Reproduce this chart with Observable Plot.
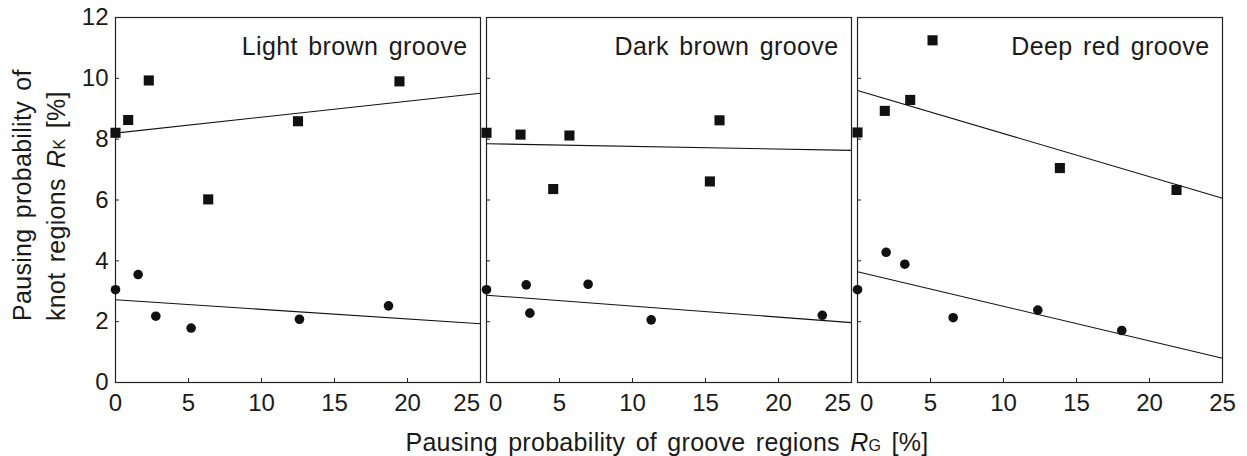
<!DOCTYPE html>
<html><head><meta charset="utf-8">
<script src="https://cdn.jsdelivr.net/npm/d3@7"></script>
<script src="https://cdn.jsdelivr.net/npm/@observablehq/plot@0.6"></script>
<style>body{margin:0;background:#fff} svg{display:block}</style>
</head><body><div id="chart"></div>
<script>
const panels = ["Light brown groove", "Dark brown groove", "Deep red groove"];
const xTicks = [0, 5, 10, 15, 20, 25];
const yTicks = [0, 2, 4, 6, 8, 10, 12];

const lightSquareX = [0, 0.87, 2.28, 6.35, 12.5, 19.45];
const lightSquareY = [8.21, 8.63, 9.93, 6.02, 8.59, 9.9];
const lightCircleX = [0, 1.55, 2.76, 5.18, 12.6, 18.7];
const lightCircleY = [3.05, 3.55, 2.18, 1.79, 2.08, 2.52];

const darkSquareX = [0, 2.33, 4.57, 5.68, 15.3, 15.96];
const darkSquareY = [8.21, 8.15, 6.36, 8.12, 6.61, 8.62];
const darkCircleX = [0, 2.72, 2.97, 6.96, 11.28, 23.0];
const darkCircleY = [3.05, 3.21, 2.28, 3.23, 2.06, 2.21];

const redSquareX = [0, 1.87, 3.61, 5.14, 13.86, 21.85];
const redSquareY = [8.22, 8.93, 9.29, 11.25, 7.05, 6.33];
const redCircleX = [0, 1.96, 3.24, 6.55, 12.35, 18.1];
const redCircleY = [3.05, 4.28, 3.89, 2.13, 2.38, 1.71];

// fitted lines: value at x = 0 and at x = 25
const squareFitStart = [8.2, 7.85, 9.6];
const squareFitEnd = [9.51, 7.63, 6.06];
const circleFitStart = [2.72, 2.87, 3.64];
const circleFitEnd = [1.93, 1.97, 0.80];

const squareXs = [lightSquareX, darkSquareX, redSquareX];
const squareYs = [lightSquareY, darkSquareY, redSquareY];
const circleXs = [lightCircleX, darkCircleX, redCircleX];
const circleYs = [lightCircleY, darkCircleY, redCircleY];

const squares = [], circles = [], fits = [], xLabels = [];
panels.forEach((p, i) => {
  squareXs[i].forEach((x, j) => squares.push({panel: p, x, y: squareYs[i][j]}));
  circleXs[i].forEach((x, j) => circles.push({panel: p, x, y: circleYs[i][j]}));
  const x0 = xTicks[0], x1 = xTicks[xTicks.length - 1];
  fits.push({panel: p, x0, x1, y0: squareFitStart[i], y1: squareFitEnd[i]});
  fits.push({panel: p, x0, x1, y0: circleFitStart[i], y1: circleFitEnd[i]});
  xTicks.forEach((t, k) => {
    let anchor = "middle";
    if (k === 0 && i > 0) anchor = "start";
    if (k === xTicks.length - 1 && i < panels.length - 1) anchor = "end";
    xLabels.push({panel: p, v: t, anchor});
  });
});

const font = "Liberation Sans, Arial, Helvetica, sans-serif";
const ink = "#1a1a1a";
const labelOpts = {fx: "panel", x: "v", text: d => String(d.v), frameAnchor: "bottom", lineAnchor: "top", dy: 11, fontSize: 24, fill: ink};

const chart = Plot.plot({
  width: 1247,
  height: 456,
  marginLeft: 115,
  marginRight: 25,
  marginTop: 17,
  marginBottom: 74,
  style: {fontFamily: font, color: ink, background: "#fff"},
  fx: {domain: panels, axis: null, paddingInner: 0.0162, paddingOuter: 0, round: false, label: null},
  x: {domain: [0, 25]},
  y: {domain: [0, 12]},
  marks: [
    Plot.frame({stroke: "#222", strokeWidth: 1.2}),
    Plot.axisY({ticks: yTicks.slice(1, -1), tickSize: -4, fill: "none", stroke: "#222", facetAnchor: null, label: null}),
    Plot.axisX({ticks: xTicks.slice(1, -1), tickSize: -4, fill: "none", stroke: "#222", facetAnchor: null, label: null}),
    Plot.axisY({ticks: yTicks, tickSize: 0, tickPadding: 7, fontSize: 24, fill: ink, label: null}),
    Plot.text(xLabels.filter(d => d.anchor === "middle"), {...labelOpts, textAnchor: "middle"}),
    Plot.text(xLabels.filter(d => d.anchor === "start"), {...labelOpts, textAnchor: "start", dx: 2.5}),
    Plot.text(xLabels.filter(d => d.anchor === "end"), {...labelOpts, textAnchor: "end", dx: -0.5}),
    Plot.link(fits, {fx: "panel", x1: "x0", x2: "x1", y1: "y0", y2: "y1", stroke: "#111", strokeWidth: 1.1}),
    Plot.dot(squares, {fx: "panel", x: "x", y: "y", symbol: "square", r: 5.7, fill: "#111", stroke: "none"}),
    Plot.dot(circles, {fx: "panel", x: "x", y: "y", symbol: "circle", r: 4.8, fill: "#111", stroke: "none"}),
    Plot.text(panels, {fx: d => d, text: d => d, frameAnchor: "top-right", textAnchor: "end", lineAnchor: "top", dx: -13, dy: 20, fontSize: 25, fill: ink})
  ]
});

document.getElementById("chart").appendChild(chart);

const svg = d3.select(chart);
// widen the panel labels like the reference lettering
svg.selectAll("text").filter(function() { return panels.includes(this.textContent); })
  .style("letter-spacing", "0.4px").style("word-spacing", "3px");

function styled(sel) {
  return sel.attr("font-family", font).attr("font-size", 25).attr("fill", ink)
    .style("letter-spacing", "0.3px").style("word-spacing", "3px");
}
// y-axis title (two lines, rotated)
styled(svg.append("text")
  .attr("transform", "translate(31,321) rotate(-90)")
  .attr("text-anchor", "start"))
  .text("Pausing probability of");
const yt2 = styled(svg.append("text")
  .attr("transform", "translate(64.5,321) rotate(-90)")
  .attr("text-anchor", "start"));
yt2.append("tspan").text("knot regions ");
yt2.append("tspan").attr("font-style", "italic").text("R");
yt2.append("tspan").attr("font-size", 16).text("K");
yt2.append("tspan").text(" [%]");

// x-axis title
const xt = styled(svg.append("text")
  .attr("x", 667).attr("y", 451)
  .attr("text-anchor", "middle"));
xt.append("tspan").text("Pausing probability of groove regions ");
xt.append("tspan").attr("font-style", "italic").text("R");
xt.append("tspan").attr("font-size", 16).text("G");
xt.append("tspan").text(" [%]");
</script>
</body></html>
